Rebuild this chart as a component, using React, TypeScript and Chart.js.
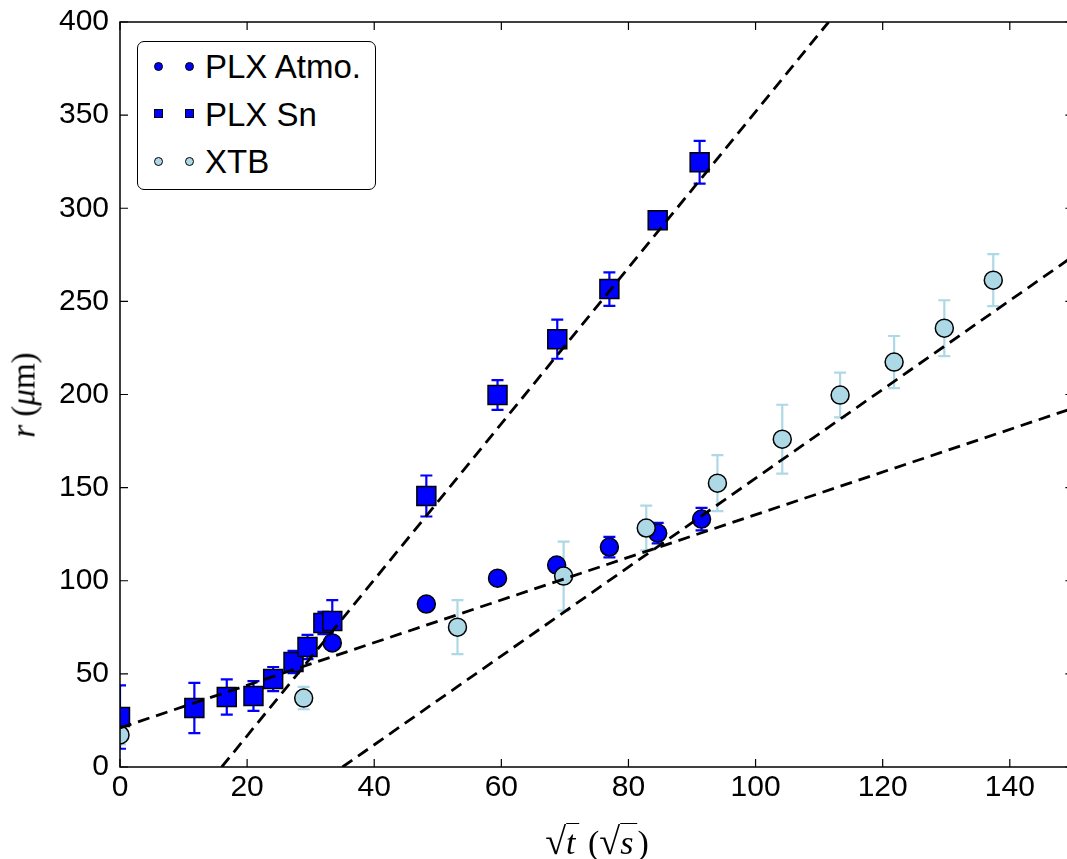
import React, { useEffect, useRef } from "react";
import { Chart, registerables } from "chart.js";
Chart.register(...registerables);

// ---- data ----
const atmoX = [33.4, 48.2, 59.4, 68.7, 77.0, 84.6, 91.5];
const atmoY = [66.6, 87.5, 101.4, 108.4, 118.1, 125.6, 133.1];
const atmoErr = [2, 2, 2, 3, 5.5, 5.5, 6];

const snX = [0, 11.7, 16.8, 21.0, 24.1, 27.3, 29.5, 32.0, 33.4, 48.2, 59.4, 68.8, 77.0, 84.6, 91.2];
const snY = [26.8, 31.7, 37.6, 38.1, 47.2, 56.4, 64.4, 77.3, 78.4, 145.5, 199.7, 229.7, 256.6, 293.6, 324.7];
const snErr = [17, 13.5, 9.5, 8, 6.5, 6, 6.5, 6, 11.2, 11, 8, 10.5, 9, 3, 11.5];

const xtbX = [0, 28.9, 53.1, 69.8, 82.8, 94.0, 104.2, 113.3, 121.8, 129.7, 137.4];
const xtbY = [17.2, 37, 75.1, 102.5, 128.3, 152.4, 176, 199.7, 217.4, 235.6, 261.4];
const xtbErr = [5, 6, 14.5, 18.5, 12, 15, 18.5, 12, 14, 15, 14];

const fitSnX = [16, 111.5];
const fitSnY = [0, 400];
const fitAtmoX = [0, 150];
const fitAtmoY = [21, 192.7];
const fitXtbX = [35, 150];
const fitXtbY = [0, 274.3];

const xTicks = [0, 20, 40, 60, 80, 100, 120, 140];
const yTicks = [0, 50, 100, 150, 200, 250, 300, 350, 400];
const X_MIN = 0;
const X_VISIBLE_MAX = 149; // the reference figure is cropped just short of the 150 frame edge
const X_FRAME_MAX = 150;
const Y_MIN = 0;
const Y_MAX = 400;

const BLUE = "#0000ff";
const LIGHT = "#add8e6";
const TICK_FONT = '"Liberation Sans", Arial, sans-serif';

const pts = (xs: number[], ys: number[]) => xs.map((x, i) => ({ x, y: ys[i] }));

const errorBarPlugin = {
  id: "errbars",
  beforeDatasetsDraw(chart: any) {
    const { ctx, chartArea: a, scales } = chart;
    const x = scales.x, y = scales.y;
    ctx.save();
    ctx.beginPath();
    ctx.rect(a.left, a.top, a.right - a.left, a.bottom - a.top);
    ctx.clip();
    const groups: [number[], number[], number[], string][] = [
      [snX, snY, snErr, BLUE],
      [atmoX, atmoY, atmoErr, BLUE],
      [xtbX, xtbY, xtbErr, LIGHT],
    ];
    ctx.lineWidth = 2.2;
    for (const [xs, ys, es, col] of groups) {
      ctx.strokeStyle = col;
      xs.forEach((xv, i) => {
        const px = x.getPixelForValue(xv);
        const top = y.getPixelForValue(ys[i] + es[i]);
        const bot = y.getPixelForValue(ys[i] - es[i]);
        ctx.beginPath();
        ctx.moveTo(px, top);
        ctx.lineTo(px, bot);
        ctx.moveTo(px - 6, top);
        ctx.lineTo(px + 6, top);
        ctx.moveTo(px - 6, bot);
        ctx.lineTo(px + 6, bot);
        ctx.stroke();
      });
    }
    ctx.restore();
  },
};

const framePlugin = {
  id: "frame",
  afterDraw(chart: any) {
    const { ctx, chartArea: a, scales } = chart;
    const x = scales.x, y = scales.y;
    const right = x.getPixelForValue(X_FRAME_MAX);
    ctx.save();
    ctx.strokeStyle = "#000";
    ctx.lineWidth = 1.5;
    ctx.strokeRect(a.left, a.top, right - a.left, a.bottom - a.top);
    ctx.lineWidth = 1.2;
    const L = 8;
    ctx.beginPath();
    xTicks.forEach((v) => {
      const px = x.getPixelForValue(v);
      ctx.moveTo(px, a.bottom);
      ctx.lineTo(px, a.bottom - L);
      ctx.moveTo(px, a.top);
      ctx.lineTo(px, a.top + L);
    });
    yTicks.forEach((v) => {
      const py = y.getPixelForValue(v);
      ctx.moveTo(a.left, py);
      ctx.lineTo(a.left + L, py);
      ctx.moveTo(right, py);
      ctx.lineTo(right - L, py);
    });
    ctx.stroke();
    ctx.restore();
  },
};

const zeroPadding = (s: any) => {
  s.paddingTop = 0;
  s.paddingBottom = 0;
  s.paddingLeft = 0;
  s.paddingRight = 0;
};

export default function App() {
  const ref = useRef<HTMLCanvasElement>(null);
  useEffect(() => {
    document.body.style.margin = "0";
    if (!ref.current) return;
    const fitStyle = {
      showLine: true,
      borderColor: "#000",
      borderWidth: 2.8,
      borderDash: [12, 7],
      pointRadius: 0,
      clip: 0,
      order: 0,
    };
    const chart = new Chart(ref.current, {
      type: "scatter",
      data: {
        datasets: [
          { label: "fitSn", data: pts(fitSnX, fitSnY), ...fitStyle },
          { label: "fitAtmo", data: pts(fitAtmoX, fitAtmoY), ...fitStyle },
          { label: "fitXtb", data: pts(fitXtbX, fitXtbY), ...fitStyle },
          {
            label: "XTB",
            data: pts(xtbX, xtbY),
            pointStyle: "circle",
            pointRadius: 9,
            pointBackgroundColor: LIGHT,
            pointBorderColor: "#000",
            pointBorderWidth: 1.5,
            clip: 0,
            order: 1,
          },
          {
            label: "PLX Atmo.",
            data: pts(atmoX, atmoY),
            pointStyle: "circle",
            pointRadius: 9,
            pointBackgroundColor: BLUE,
            pointBorderColor: "#000",
            pointBorderWidth: 1.5,
            clip: 0,
            order: 2,
          },
          {
            label: "PLX Sn",
            data: pts(snX, snY),
            pointStyle: "rect",
            pointRadius: 13.4,
            pointBackgroundColor: BLUE,
            pointBorderColor: "#000",
            pointBorderWidth: 1.5,
            clip: 0,
            order: 3,
          },
        ],
      },
      options: {
        responsive: false,
        animation: false,
        events: [],
        layout: { autoPadding: false, padding: { left: 0, top: 22, right: 0, bottom: 0 } },
        plugins: { legend: { display: false }, tooltip: { enabled: false } },
        scales: {
          x: {
            type: "linear",
            min: X_MIN,
            max: X_VISIBLE_MAX,
            afterBuildTicks: (s: any) => {
              s.ticks = xTicks.map((v) => ({ value: v }));
            },
            afterFit: (s: any) => {
              s.height = 92;
              zeroPadding(s);
            },
            grid: { display: false, drawTicks: false },
            border: { display: false },
            ticks: {
              color: "#000",
              padding: 3,
              maxRotation: 0,
              autoSkip: false,
              font: { family: TICK_FONT, size: 30 },
            },
          },
          y: {
            type: "linear",
            min: Y_MIN,
            max: Y_MAX,
            afterBuildTicks: (s: any) => {
              s.ticks = yTicks.map((v) => ({ value: v }));
            },
            afterFit: (s: any) => {
              s.width = 120;
              zeroPadding(s);
            },
            grid: { display: false, drawTicks: false },
            border: { display: false },
            ticks: {
              color: "#000",
              padding: 11,
              autoSkip: false,
              font: { family: TICK_FONT, size: 30 },
            },
          },
        },
      },
      plugins: [errorBarPlugin, framePlugin],
    } as any);
    return () => chart.destroy();
  }, []);

  const serif = '"Liberation Serif", "DejaVu Serif", serif';
  const legendRows: { label: string; color: string; square: boolean }[] = [
    { label: "PLX Atmo.", color: BLUE, square: false },
    { label: "PLX Sn", color: BLUE, square: true },
    { label: "XTB", color: LIGHT, square: false },
  ];

  return (
    <div
      style={{
        position: "relative",
        width: 1067,
        height: 859,
        overflow: "hidden",
        background: "#fff",
      }}
    >
      <canvas ref={ref} width={1067} height={859} style={{ width: 1067, height: 859, display: "block" }} />
      {/* legend */}
      <div
        style={{
          position: "absolute",
          left: 137,
          top: 41,
          width: 237,
          height: 147,
          border: "1.5px solid #000",
          borderRadius: 7,
          background: "#fff",
        }}
      />
      {legendRows.map((r, i) => {
        const cy = 66 + i * 47.5;
        return (
          <React.Fragment key={r.label}>
            {[158, 189].map((cx) => (
              <div
                key={cx}
                style={{
                  position: "absolute",
                  left: cx - 4.5,
                  top: cy - 4.5,
                  width: 9,
                  height: 9,
                  boxSizing: "border-box",
                  border: "1px solid #000",
                  borderRadius: r.square ? 0 : "50%",
                  background: r.color,
                }}
              />
            ))}
            <div
              style={{
                position: "absolute",
                left: 205,
                top: cy,
                transform: "translateY(-50%)",
                font: `33px ${TICK_FONT}`,
                lineHeight: "33px",
                whiteSpace: "nowrap",
                color: "#000",
              }}
            >
              {r.label}
            </div>
          </React.Fragment>
        );
      })}
      {/* y axis title */}
      <div
        style={{
          position: "absolute",
          left: 24,
          top: 395,
          transform: "translate(-50%, -50%) rotate(-90deg)",
          font: `33px ${serif}`,
          whiteSpace: "nowrap",
          color: "#000",
        }}
      >
        <i>r</i> (<i>μ</i>m)
      </div>
      {/* x axis title */}
      <div
        style={{
          position: "absolute",
          left: 597,
          top: 841,
          transform: "translate(-50%, -50%)",
          font: `34px ${serif}`,
          whiteSpace: "nowrap",
          color: "#000",
        }}
      >
        <span style={{ fontSize: 38 }}>√</span>
        <span style={{ borderTop: "1.5px solid #000", fontStyle: "italic", paddingRight: 4 }}>t</span> (
        <span style={{ fontSize: 38 }}>√</span>
        <span style={{ borderTop: "1.5px solid #000", fontStyle: "italic", paddingRight: 4 }}>s</span>)
      </div>
    </div>
  );
}
